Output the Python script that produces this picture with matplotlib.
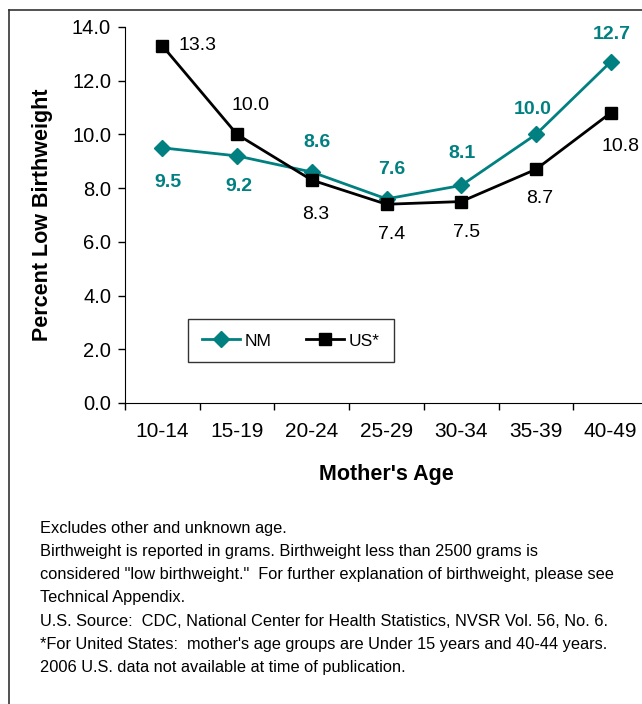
import matplotlib.pyplot as plt
from matplotlib.lines import Line2D

plt.rcParams['font.family'] = ['Liberation Sans', 'DejaVu Sans']

# Data
ages = ['10-14', '15-19', '20-24', '25-29', '30-34', '35-39', '40-49']
nm = [9.5, 9.2, 8.6, 7.6, 8.1, 10.0, 12.7]
us = [13.3, 10.0, 8.3, 7.4, 7.5, 8.7, 10.8]
y_ticks = [0, 2, 4, 6, 8, 10, 12, 14]

notes = [
    "Excludes other and unknown age.",
    "Birthweight is reported in grams. Birthweight less than 2500 grams is",
    "considered \"low birthweight.\"  For further explanation of birthweight, please see",
    "Technical Appendix.",
    "U.S. Source:  CDC, National Center for Health Statistics, NVSR Vol. 56, No. 6.",
    "*For United States:  mother's age groups are Under 15 years and 40-44 years.",
    "2006 U.S. data not available at time of publication.",
]

teal = '#008080'

fig = plt.figure(figsize=(6.42, 7.04), dpi=100)
ax = fig.add_axes([125 / 642, 1 - 403 / 704, 523 / 642, 376 / 704])

x = list(range(len(ages)))
ax.plot(x, nm, color=teal, linewidth=2, marker='D', markersize=8, label='NM')
ax.plot(x, us, color='black', linewidth=2, marker='s', markersize=9, label='US*')

# Data labels (offsets in points)
nm_off = [(4, -25), (1.5, -22), (3.5, 21.5), (4, 21), (0.5, 23), (-2, 18), (0.5, 19.5)]
us_off = [(25, 0), (10, 21), (3, -25), (4, -22), (3.5, -22), (3, -21), (7, -24.5)]
for i, v in enumerate(nm):
    ax.annotate(f'{v:.1f}', (x[i], v), xytext=nm_off[i], textcoords='offset points',
                ha='center', va='center', color=teal, fontsize=14, fontweight='bold')
for i, v in enumerate(us):
    ax.annotate(f'{v:.1f}', (x[i], v), xytext=us_off[i], textcoords='offset points',
                ha='center', va='center', color='black', fontsize=14)

ax.set_xlim(-0.5, len(ages) - 0.5)
ax.set_ylim(0, 14)
ax.set_yticks(y_ticks)
ax.set_yticklabels([f'{t:.1f}' for t in y_ticks], fontsize=14.5)
ax.set_xticks(x)
ax.set_xticklabels(ages, fontsize=15)
ax.set_xticks([i - 0.5 for i in range(len(ages) + 1)], minor=True)
ax.tick_params(axis='x', which='major', length=0, pad=14)
ax.tick_params(axis='x', which='minor', length=5, width=1)
ax.tick_params(axis='y', length=5, width=1, pad=5)

ax.spines['top'].set_visible(False)
ax.spines['right'].set_visible(False)

ax.set_ylabel('Percent Low Birthweight', fontsize=15.5, fontweight='bold', labelpad=14)
ax.set_xlabel("Mother's Age", fontsize=15.5, fontweight='bold', labelpad=16)

leg = ax.legend(loc='center', bbox_to_anchor=(0.317, 0.165), ncol=2, fontsize=12.5,
                frameon=True, fancybox=False, edgecolor='black', borderpad=0.8,
                borderaxespad=0, handlelength=2.2, columnspacing=2.0,
                handletextpad=0.25)
leg.get_frame().set_linewidth(1)

# notes below the chart
for i, line in enumerate(notes):
    fig.text(40 / 642, 1 - (528 + i * 23.3) / 704, line, fontsize=11.8,
             ha='left', va='center')

# outer frame (top and left edges visible)
fig.add_artist(Line2D([9 / 642, 1.01], [1 - 10 / 704, 1 - 10 / 704],
                      transform=fig.transFigure, color='#333333', linewidth=1.2))
fig.add_artist(Line2D([9 / 642, 9 / 642], [-0.01, 1 - 10 / 704],
                      transform=fig.transFigure, color='#333333', linewidth=1.2))

fig.savefig('out.png', dpi=100)
